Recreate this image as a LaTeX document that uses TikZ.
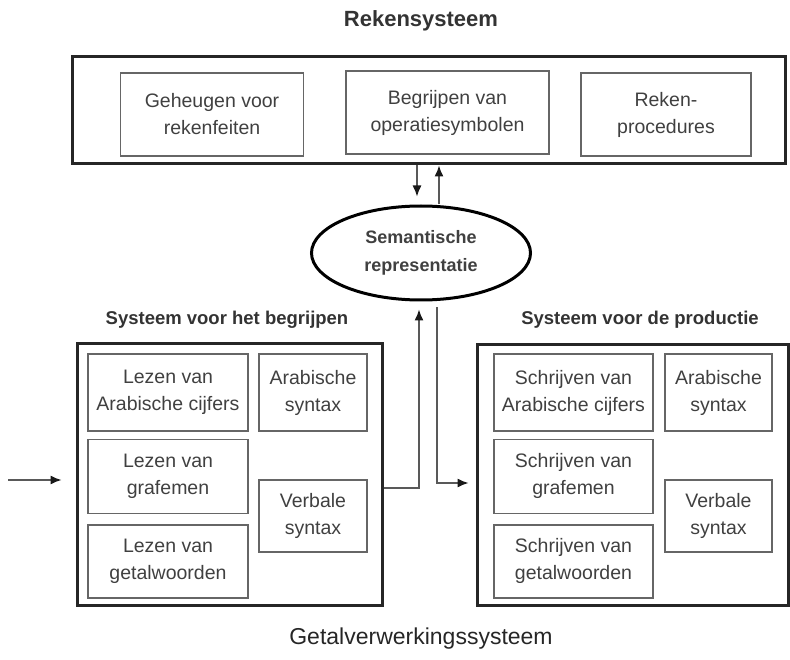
\documentclass[tikz,border=0pt]{standalone}
\usepackage{fontspec}
\setmainfont{Liberation Sans}
\usetikzlibrary{positioning,calc,shapes.geometric,arrows.meta}

\begin{document}
\begin{tikzpicture}[x=1pt,y=-1pt,
		bigbox/.style={draw=black!85,line width=3pt,inner sep=0pt},
		subbox/.style={draw=black!60,line width=1.4pt,inner sep=0pt,align=center,
			text=black!75,font=\fontsize{19.5}{27}\selectfont},
		head/.style={text=black!80,font=\bfseries\fontsize{18.5}{22}\selectfont},
		link/.style={draw=black!65,line width=1.3pt},
		tip/.style={-{Latex[length=11pt,width=9pt,color=black!90]}}]
	\useasboundingbox (0,0) rectangle (790,660);
	% rekensysteem
	\node[head,font=\bfseries\fontsize{22}{26}\selectfont] (reken) at (421,21) {Rekensysteem};
	\node[bigbox,minimum width=713pt,minimum height=107pt] (top) at (428.5,110.5) {};
	\node[subbox,minimum width=183pt,minimum height=83pt] (feit) at (212,114.5) {Geheugen voor\\rekenfeiten};
	\node[subbox,minimum width=203pt,minimum height=83pt] (oper) at (447.5,112.5) {Begrijpen van\\operatiesymbolen};
	\node[subbox,minimum width=170pt,minimum height=83pt] (proc) at (666,114.5) {Reken-\\procedures};
	%
	\node[ellipse,draw=black,line width=3pt,minimum width=219pt,minimum height=94pt,inner sep=0pt,
		align=center,text=black!75,font=\bfseries\fontsize{18}{28}\selectfont] (sem) at (421,253) {Semantische\\representatie};
	% begrijpen
	\node[head] (hbeg) at (227,320) {Systeem voor het begrijpen};
	\node[bigbox,minimum width=305pt,minimum height=261pt] (lbox) at (229.5,474.5) {};
	\node[subbox,minimum width=160pt,minimum height=77pt] (l1) at (168,392.5) {Lezen van\\Arabische cijfers};
	\node[subbox,minimum width=160pt,minimum height=74pt,below=7pt of l1] (l2) {Lezen van\\grafemen};
	\node[subbox,minimum width=160pt,minimum height=73pt,below=10pt of l2] (l3) {Lezen van\\getalwoorden};
	\node[subbox,minimum width=108pt,minimum height=77pt] (la) at (313,392.5) {Arabische\\syntax};
	\node[subbox,minimum width=108pt,minimum height=72pt] (lv) at (313,516) {Verbale\\syntax};
	% productie
	\node[head] (hprod) at (640,320) {Systeem voor de productie};
	\node[bigbox,minimum width=311pt,minimum height=260pt] (rbox) at (632.5,475) {};
	\node[subbox,minimum width=159pt,minimum height=77pt] (r1) at (573.5,392.5) {Schrijven van\\Arabische cijfers};
	\node[subbox,minimum width=159pt,minimum height=74pt,below=7pt of r1] (r2) {Schrijven van\\grafemen};
	\node[subbox,minimum width=159pt,minimum height=73pt,below=10pt of r2] (r3) {Schrijven van\\getalwoorden};
	\node[subbox,minimum width=107pt,minimum height=77pt] (ra) at (718.5,392.5) {Arabische\\syntax};
	\node[subbox,minimum width=107pt,minimum height=72pt] (rv) at (718.5,516) {Verbale\\syntax};
	%
	\node[text=black!85,font=\fontsize{23}{27}\selectfont] (getal) at (421,639) {Getalverwerkingssysteem};
	\coordinate (src) at (8,480);
	% pijlen
	\draw[link,tip,shorten >=14pt] (src) -- (src -| lbox.west);
	\draw[link,tip,shorten >=8pt] ([xshift=-11.5pt]top.south) -- ([xshift=-4pt]sem.north);
	\draw[link,tip] ([xshift=18pt]sem.north) -- ([xshift=10.5pt]top.south);
	\draw[link,tip,shorten >=8pt] ([yshift=-13.5pt]lbox.east) -| ([xshift=-2pt]sem.south);
	\draw[link,tip,shorten <=6pt,shorten >=7pt] ([xshift=16pt]sem.south) |- ([yshift=-8pt]rbox.west);
\end{tikzpicture}
\end{document}
